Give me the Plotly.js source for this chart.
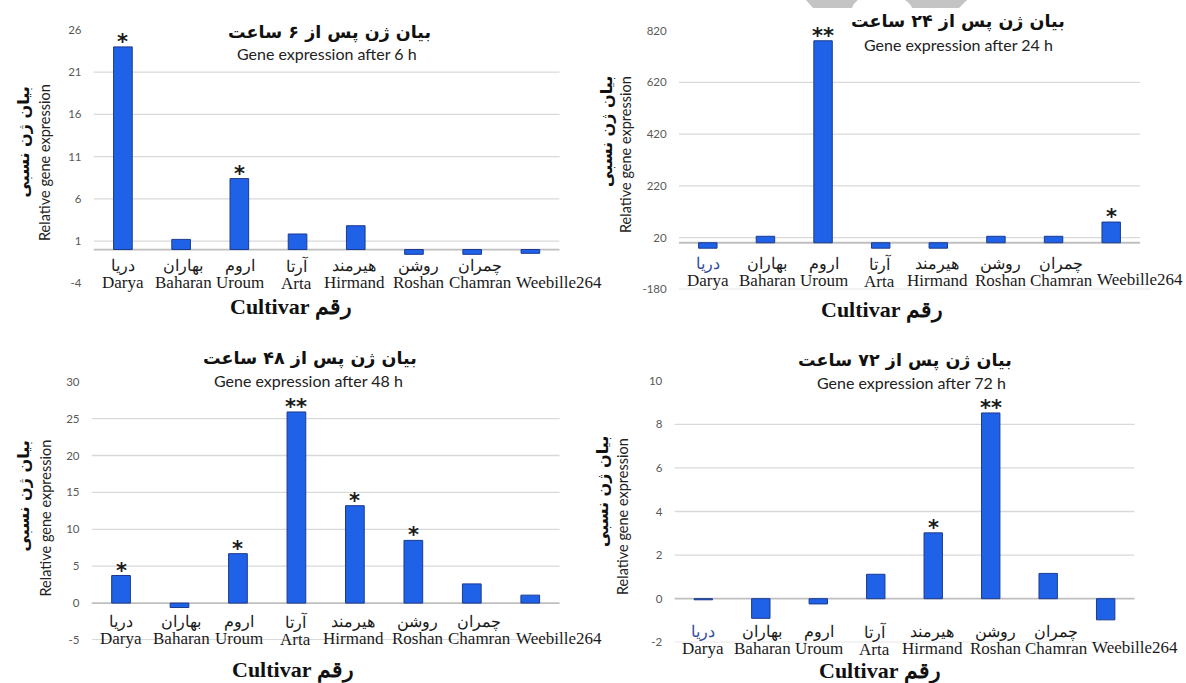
<!DOCTYPE html>
<html>
<head>
<meta charset="utf-8">
<script src="https://cdn.plot.ly/plotly-3.0.1.min.js"></script>
<style>
  html, body { margin: 0; padding: 0; background: #ffffff; }
  #chart { width: 1186px; height: 683px; }
</style>
</head>
<body>
<div id="chart"></div>
<script>
// ---------------- DATA ----------------
const cultivarsEn = ['Darya', 'Baharan', 'Uroum', 'Arta', 'Hirmand', 'Roshan', 'Chamran', 'Weebille264'];
const cultivarsFa = ['دریا', 'بهاران', 'اروم', 'آرتا', 'هیرمند', 'روشن', 'چمران', ''];

const expr6h  = [24.0, 1.2, 8.4, 1.84, 2.82, -0.57, -0.57, -0.45];
const expr24h = [-21, 25, 781, -21, -21, 25, 25, 80];
const expr48h = [3.74, -0.6, 6.7, 25.9, 13.2, 8.5, 2.6, 1.08];
const expr72h = [-0.05, -0.9, -0.24, 1.12, 3.02, 8.52, 1.16, -0.97];

const sig6h  = ['*', '', '*', '', '', '', '', ''];
const sig24h = ['', '', '**', '', '', '', '', '*'];
const sig48h = ['*', '', '*', '**', '*', '*', '', ''];
const sig72h = ['', '', '', '', '*', '**', '', ''];

const ticks6h  = [-4, 1, 6, 11, 16, 21, 26];
const ticks24h = [-180, 20, 220, 420, 620, 820];
const ticks48h = [-5, 0, 5, 10, 15, 20, 25, 30];
const ticks72h = [-2, 0, 2, 4, 6, 8, 10];

const titlesFa = ['بیان ژن پس از ۶ ساعت', 'بیان ژن پس از ۲۴ ساعت', 'بیان ژن پس از ۴۸ ساعت', 'بیان ژن پس از ۷۲ ساعت'];
const titlesEn = ['Gene expression after 6 h', 'Gene expression after 24 h', 'Gene expression after 48 h', 'Gene expression after 72 h'];
const yTitleFa = 'بیان ژن نسبی';
const yTitleEn = 'Relative gene expression';
const xTitle = 'Cultivar رقم';

// ---------------- LAYOUT HELPERS ----------------
const W = 1186, H = 683;
const px = (x) => x / W;
const py = (y) => 1 - y / H;
// small horizontal nudges of the category labels (pixels), as in the original figure
const labelNudge = [0, 2, 1, -1, -1, 5, 8, 29];

const panels = [
  { vals: expr6h,  sig: sig6h,  ticks: ticks6h,  xd: [93.8, 559.5], yd: [283.3, 30],
    faOff: 15.5, enOff: 32.5, bottomGrid: false, darkDarya: false,
    tFa: [329, 32], tEn: [326.5, 54], xT: [291, 307], yFa: [23.5, 142], yEn: [45, 163] },
  { vals: expr24h, sig: sig24h, ticks: ticks24h, xd: [679, 1140], yd: [289.3, 30.7],
    faOff: 20, enOff: 37, bottomGrid: true, darkDarya: true,
    tFa: [958, 21.7], tEn: [958.8, 44], xT: [882, 310], yFa: [606, 132], yEn: [626, 155] },
  { vals: expr48h, sig: sig48h, ticks: ticks48h, xd: [91.8, 559.5], yd: [640, 381.7],
    faOff: 18, enOff: 35, bottomGrid: true, darkDarya: false,
    tFa: [310, 358], tEn: [308.5, 380.7], xT: [292.8, 670], yFa: [22.5, 496], yEn: [44.5, 518] },
  { vals: expr72h, sig: sig72h, ticks: ticks72h, xd: [674.6, 1134.4], yd: [642.3, 380.7],
    faOff: 32, enOff: 49, bottomGrid: true, darkDarya: true,
    tFa: [905, 360], tEn: [912, 382.7], xT: [880, 671], yFa: [602, 492], yEn: [622, 517] }
];

const faStyle = 'font-family:\'DejaVu Serif\',serif;font-size:15.5px';
const enStyle = 'font-family:\'Liberation Serif\',serif;font-size:17px';

const data = [];
const annotations = [];
const shapes = [];
const layout = {
  width: W, height: H,
  margin: { l: 0, r: 0, t: 0, b: 0 },
  paper_bgcolor: '#ffffff', plot_bgcolor: 'rgba(0,0,0,0)',
  showlegend: false,
  bargap: 0.68,
  font: { family: 'Lato, "Open Sans", sans-serif', color: '#000000' }
};

panels.forEach((p, i) => {
  const n = i === 0 ? '' : String(i + 1);
  const xa = 'x' + n, ya = 'y' + n;
  const tMin = Math.min(...p.ticks), tMax = Math.max(...p.ticks);

  data.push({
    type: 'bar', x: cultivarsEn, y: p.vals, xaxis: xa, yaxis: ya,
    marker: { color: '#1f62e8', line: { color: '#1b3a8e', width: 1 } },
    hoverinfo: 'x+y'
  });

  layout['xaxis' + n] = {
    domain: [px(p.xd[0]), px(p.xd[1])], anchor: ya, type: 'category',
    categoryarray: cultivarsEn, range: [-0.5, cultivarsEn.length - 0.5], autorange: false,
    showticklabels: false, showgrid: false,
    zeroline: false, showline: false, ticks: '', fixedrange: true
  };
  layout['yaxis' + n] = {
    domain: [py(p.yd[0]), py(p.yd[1])], anchor: xa, range: [tMin, tMax], autorange: false,
    tickmode: 'array', tickvals: p.ticks, ticktext: p.ticks.map(String),
    showgrid: false, zeroline: false, showline: false,
    ticks: 'outside', ticklen: 9, tickcolor: 'rgba(0,0,0,0)',
    tickfont: { family: 'Lato, sans-serif', size: 11.5, color: '#595959' },
    fixedrange: true
  };

  // gridlines from tick values
  p.ticks.forEach((v) => {
    if (v === tMax) return;
    if (v === tMin && !p.bottomGrid) return;
    if (v === 0) return;
    shapes.push({
      type: 'line', xref: xa + ' domain', yref: ya, x0: 0, x1: (v === tMin && i === 1) ? 1.023 : 1,
      y0: v, y1: v, layer: 'below',
      line: { color: (v === tMin) ? '#cfcfcf' : '#d9d9d9', width: 1.3 }
    });
  });
  // zero (category axis) line
  shapes.push({
    type: 'line', xref: xa + ' domain', yref: ya, x0: 0, x1: 1, y0: 0, y1: 0,
    layer: 'below', line: { color: '#bfbfbf', width: 1.8 }
  });

  // category labels: Persian name above the English name
  cultivarsEn.forEach((c, k) => {
    if (cultivarsFa[k]) {
      const faColor = (k === 0 && p.darkDarya) ? '#2f4b9c' : '#1a1a1a';
      annotations.push({
        xref: xa, yref: ya, x: c, y: 0, yshift: -(p.faOff + p.enOff) / 2 - 1, xshift: labelNudge[k],
        yanchor: 'middle', xanchor: 'center', align: 'center', showarrow: false,
        text: '<span style="' + faStyle + ';fill:' + faColor + '">' + cultivarsFa[k] + '</span><br>' +
              '<span style="' + enStyle + '">' + c + '</span>',
        font: { family: '"Liberation Serif", serif', size: 13, color: '#1a1a1a' }
      });
    } else {
      annotations.push({
        xref: xa, yref: ya, x: c, y: 0, yshift: -p.enOff, xshift: labelNudge[k], yanchor: 'middle',
        xanchor: 'center', showarrow: false, text: c,
        font: { family: '"Liberation Serif", "Times New Roman", serif', size: 17, color: '#1a1a1a' }
      });
    }
    if (p.sig[k]) {
      annotations.push({
        xref: xa, yref: ya, x: c, y: p.vals[k], yanchor: 'bottom', yshift: -9,
        xanchor: 'center', showarrow: false, text: '<b>' + p.sig[k] + '</b>',
        font: { family: '"DejaVu Sans", sans-serif', size: 21, color: '#1a1a1a' }
      });
    }
  });

  // titles
  annotations.push({
    xref: 'paper', yref: 'paper', x: px(p.tFa[0]), y: py(p.tFa[1]), xanchor: 'center', yanchor: 'middle',
    showarrow: false, text: '<b>' + titlesFa[i] + '</b>',
    font: { family: '"DejaVu Sans", sans-serif', size: 17.5, color: '#111111' }
  });
  annotations.push({
    xref: 'paper', yref: 'paper', x: px(p.tEn[0]), y: py(p.tEn[1]), xanchor: 'center', yanchor: 'middle',
    showarrow: false, text: titlesEn[i],
    font: { family: 'Lato, sans-serif', size: 16, color: '#222222' }
  });
  // x axis title
  annotations.push({
    xref: 'paper', yref: 'paper', x: px(p.xT[0]), y: py(p.xT[1]), xanchor: 'center', yanchor: 'middle',
    showarrow: false, text: '<b>' + xTitle + '</b>',
    font: { family: '"Liberation Serif", "Times New Roman", serif', size: 22, color: '#111111' }
  });
  // y axis titles
  annotations.push({
    xref: 'paper', yref: 'paper', x: px(p.yFa[0]), y: py(p.yFa[1]), xanchor: 'center', yanchor: 'middle',
    textangle: -90, showarrow: false, text: '<b>' + yTitleFa + '</b>',
    font: { family: '"DejaVu Sans", sans-serif', size: 16, color: '#111111' }
  });
  annotations.push({
    xref: 'paper', yref: 'paper', x: px(p.yEn[0]), y: py(p.yEn[1]), xanchor: 'center', yanchor: 'middle',
    textangle: -90, showarrow: false, text: yTitleEn,
    font: { family: 'Lato, sans-serif', size: 14.5, color: '#222222' }
  });
});

// grey decoration at top of the 24 h panel (watermark fragment)
const pt = (x, y) => px(x).toFixed(5) + ',' + py(y).toFixed(5);
shapes.push({
  type: 'path', xref: 'paper', yref: 'paper', layer: 'above', line: { width: 0 }, fillcolor: '#c4c4c4',
  path: 'M' + pt(806, 0) + ' L' + pt(858, 0) + ' Q' + pt(853, 4) + ' ' + pt(852, 8) + ' L' + pt(813, 8) + ' Z'
});
shapes.push({
  type: 'path', xref: 'paper', yref: 'paper', layer: 'above', line: { width: 0 }, fillcolor: '#c4c4c4',
  path: 'M' + pt(905, 0) + ' L' + pt(967, 0) + ' L' + pt(959, 8) + ' L' + pt(912, 8) + ' Q' + pt(911, 4) + ' ' + pt(905, 0) + ' Z'
});

layout.annotations = annotations;
layout.shapes = shapes;

Plotly.newPlot('chart', data, layout, { displayModeBar: false, staticPlot: true });
</script>
</body>
</html>
